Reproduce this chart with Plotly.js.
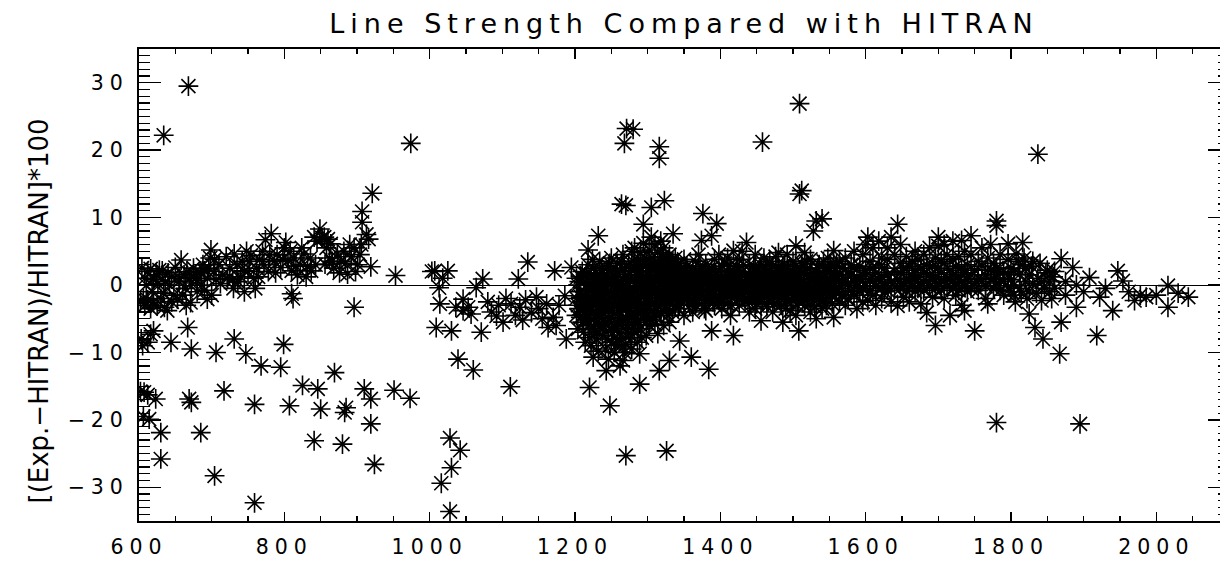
<!DOCTYPE html>
<html>
<head>
<meta charset="utf-8">
<script src="https://cdn.plot.ly/plotly-3.0.1.min.js"></script>
<style>
  html, body { margin: 0; padding: 0; overflow: hidden; background: #fff; }
  #chart { width: 1232px; height: 561px; }
  text.gtitle { letter-spacing: 6px; }
  g.xtick text, g.ytick text { letter-spacing: 6px; }
</style>
</head>
<body>
<div id="chart"></div>
<script>
// Chart text
const chartTitle = "Line Strength Compared with HITRAN";
const yTitle = "[(Exp.\u2212HITRAN)/HITRAN]*100";
const xTickValues = [600, 800, 1000, 1200, 1400, 1600, 1800, 2000];
const yTickValues = [-30, -20, -10, 0, 10, 20, 30];

// [wavenumber, deviation %] pairs, split by region
const region600to1000 = [
  [604,2.5],[608,1.0],[612,2.0],[616,2.4],[620,0.8],[624,1.5],[628,2.2],[632,2.1],[636,0.5],[640,1.8],
  [645,1.2],[650,2.6],[655,0.5],[658,3.7],[662,1.5],[666,2.0],[670,1.0],[675,2.5],[680,0.7],[684,1.8],
  [688,3.0],[690,2.1],[694,1.0],[698,4.0],[699,5.2],[703,2.0],[706,0.8],
  [602,-2.5],[606,-2.0],[608,-3.0],[612,-2.2],[616,-3.5],[620,-2.6],[625,-3.1],[630,-2.0],[635,-3.3],
  [639,-3.8],[645,-2.5],[653,-2.1],[660,-1.5],[665,-3.0],[671,-2.6],[680,-1.0],[690,-0.8],[694,-2.1],[700,-1.5],
  [603,-8.0],[605,-9.0],[612,-8.5],[616,-7.3],[620,-6.8],[644,-8.5],[667,-6.3],[672,-9.5],[706,-10.0],
  [731,-8.0],[747,-10.2],[768,-12.0],[795,-12.2],[799,-8.8],[825,-14.9],[846,-15.4],[869,-13.0],[910,-15.4],
  [919,-16.9],[951,-15.6],[973,-16.8],
  [602,-15.8],[607,-15.9],[612,-16.3],[623,-16.9],[669,-16.9],[672,-17.4],[717,-15.7],[759,-17.7],[807,-17.9],
  [850,-18.4],[883,-18.9],[885,-18.2],[919,-20.6],[606,-19.5],[614,-19.9],[630,-21.9],[685,-21.9],[841,-23.1],
  [880,-23.6],[630,-25.8],[924,-26.6],[704,-28.3],[759,-32.3],
  [668,29.5],[634,22.2],[974,21.0],
  [710,3.0],[715,1.5],[720,4.2],[725,2.5],[729,0.8],[731,4.6],[735,3.0],[740,1.2],[745,2.1],[748,5.0],
  [752,3.5],[754,4.4],[758,1.0],[762,2.5],[766,3.8],[770,5.0],[774,6.7],[778,2.0],[782,7.6],[786,3.5],
  [790,4.5],[795,2.6],[800,5.5],[802,6.3],[805,3.6],[810,2.1],[813,4.0],[818,1.5],[822,3.0],[827,4.6],
  [832,2.8],[837,2.1],[841,7.1],[845,6.5],[849,8.3],[852,7.0],[855,7.1],[858,5.5],[856,3.1],[862,4.0],
  [864,6.1],[868,2.5],[873,4.6],[878,3.5],[882,5.0],[887,1.6],[892,4.2],[896,5.5],[901,3.0],[906,6.0],
  [907,9.3],[907,10.9],[916,6.8],[919,2.7],[921,13.6],[913,7.5],
  [730,-0.5],[745,-1.0],[760,-0.5],[810,-1.3],[812,-2.0],[896,-3.3],[953,1.4],
  [610,0.0],[618,-1.0],[626,0.2],[634,-1.2],[642,0.0],[648,-1.5],[656,1.0],[664,-0.5],[672,0.3],[678,1.5],
  [686,0.0],[696,2.5],[704,3.8],[712,0.2],[722,1.0],[736,0.5],[742,3.5],[750,2.0],[764,1.2],[772,3.0],
  [780,4.5],[788,1.8],[798,3.8],[808,5.0],[816,2.8],[824,5.5],[830,1.2],[836,4.0],[843,3.0],[860,6.8],
  [866,3.5],[876,1.8],[884,3.2],[890,6.0],[898,2.0],[904,4.5]
];

const region1000to1200 = [
  [1003,2.0],[1007,2.1],[1013,-0.4],[1018,1.0],[1025,2.1],[1014,-2.8],[1036,-3.3],[1046,-2.1],[1046,-3.8],
  [1053,-3.3],[1057,-4.3],[1064,-0.4],[1073,0.9],[1009,-6.3],[1030,-6.8],[1071,-7.0],[1092,-4.6],[1101,-5.5],
  [1112,-2.8],[1122,0.9],[1124,-3.3],[1135,3.4],[1140,-4.1],[1147,-1.8],[1161,-2.8],[1163,-6.3],[1170,-4.8],
  [1172,2.1],[1174,-6.0],[1186,-1.6],[1188,-8.0],[1195,2.6],[1039,-11.0],[1060,-12.6],[1111,-15.1],
  [1028,-22.7],[1042,-24.5],[1030,-27.1],[1016,-29.4],[1028,-33.6],[1080,-2.5],[1085,-4.0],[1095,-3.0],
  [1105,-2.0],[1118,-4.5],[1128,-5.2],[1150,-3.5],[1155,-5.0],[1178,-3.0],[1132,-2.2]
];

const region1200to1360 = [
  [1218,5.2],[1232,7.3],[1220,-15.2],[1248,-17.9],[1270,-25.3],[1268,21.0],[1271,23.2],[1264,12.0],
  [1225,-10.7],[1243,-12.7],[1266,-11.2],[1227,-7.3],[1289,-10.2],[1316,-12.7],[1289,-14.7],[1330,-11.2],
  [1326,-24.6],[1280,23.1],[1316,20.5],[1316,18.8],[1270,11.8],[1305,11.5],[1323,12.5],[1294,9.0],
  [1305,7.1],[1335,7.6],[1344,-8.3],[1360,-10.7],
  [1202,1.0],[1202,-2.0],[1202,-4.5],[1206,-1.0],[1206,-3.5],[1206,0.5],[1210,-2.5],[1210,-5.5],[1210,2.0],
  [1214,-1.5],[1214,-4.0],[1214,-8.5],[1218,0.0],[1218,-3.0],[1218,-6.0],[1218,3.0],
  [1222,-2.2],[1222,-5.0],[1222,1.5],[1222,-9.0],[1226,-0.5],[1226,-3.8],[1226,-6.5],[1226,2.5],
  [1230,-1.8],[1230,-4.5],[1230,0.8],[1230,-8.0],[1234,-3.0],[1234,-6.0],[1234,3.5],[1234,-0.2],
  [1238,-1.2],[1238,-4.2],[1238,-7.5],[1238,1.8],[1242,-2.5],[1242,-5.5],[1242,0.5],[1242,-9.5],
  [1246,-0.8],[1246,-3.5],[1246,-6.8],[1246,2.8],[1246,-11.0],[1250,-2.0],[1250,-4.8],[1250,0.2],[1250,-8.5],[1250,4.0],
  [1254,-1.5],[1254,-3.2],[1254,-6.2],[1254,1.2],[1254,-10.0],[1258,-0.3],[1258,-2.8],[1258,-5.5],[1258,-8.0],[1258,3.2],
  [1262,-1.0],[1262,-4.0],[1262,-7.0],[1262,2.0],[1262,-12.0],[1266,-2.2],[1266,-5.2],[1266,0.8],[1266,-9.2],[1266,4.5],
  [1270,-0.5],[1270,-3.5],[1270,-6.5],[1270,1.5],[1270,-8.8],[1274,-1.8],[1274,-4.5],[1274,3.0],[1274,-7.2],[1274,0.2],
  [1278,-2.8],[1278,-5.8],[1278,2.2],[1278,-9.5],[1278,5.0],
  [1282,-1.0],[1282,-4.2],[1282,2.5],[1282,-7.0],[1282,5.5],[1286,0.5],[1286,-2.5],[1286,-5.5],[1286,3.5],[1286,-8.5],
  [1290,-1.5],[1290,1.5],[1290,-3.8],[1290,4.8],[1290,-6.5],[1294,0.0],[1294,-2.8],[1294,2.8],[1294,-5.0],[1294,6.2],
  [1298,-0.8],[1298,1.0],[1298,-4.5],[1298,3.8],[1298,-7.5],[1302,0.3],[1302,-2.0],[1302,2.0],[1302,-3.5],[1302,5.2],[1302,-6.0],
  [1306,-1.2],[1306,1.2],[1306,4.0],[1306,-4.8],[1310,0.8],[1310,-2.5],[1310,3.0],[1310,-5.8],[1310,6.0],
  [1314,-0.5],[1314,2.2],[1314,-3.2],[1314,4.8],[1314,-7.2],[1318,1.5],[1318,-1.8],[1318,3.5],[1318,-4.2],[1318,6.5],
  [1322,-0.2],[1322,2.8],[1322,-2.8],[1322,5.5],[1322,-6.0],[1326,1.0],[1326,-1.5],[1326,3.8],[1326,-3.8],
  [1330,-0.8],[1330,2.0],[1330,-2.5],[1330,4.5],[1330,-5.5],[1334,0.5],[1334,3.0],[1334,-1.8],[1334,-4.0],
  [1338,-0.3],[1338,1.8],[1338,-3.0],[1338,4.0],[1342,1.2],[1342,-1.2],[1342,3.2],[1342,-3.5],
  [1346,0.0],[1346,2.5],[1346,-2.2],[1350,-0.8],[1350,1.5],[1350,3.8],[1350,-4.5],[1354,0.8],[1354,-1.8],[1354,2.8],
  [1358,-0.5],[1358,1.8],[1358,-3.0]
];

const core1200to1360 = [
  [1204,0.0],[1204,-3.0],[1204,-6.5],[1208,-1.8],[1208,1.2],[1208,-4.8],[1212,0.5],[1212,-3.2],[1212,-7.0],
  [1216,-2.0],[1216,1.8],[1216,-5.2],[1220,-0.8],[1220,-4.0],[1220,-7.8],[1224,0.2],[1224,-2.8],[1224,3.8],
  [1228,-1.5],[1228,-5.8],[1228,1.0],[1232,0.5],[1232,-2.5],[1232,-9.8],[1236,-1.8],[1236,-4.8],[1236,2.2],
  [1240,0.0],[1240,-3.2],[1240,-6.2],[1244,-1.2],[1244,1.5],[1244,-8.0],[1248,-2.5],[1248,-5.0],[1248,3.2],
  [1252,0.8],[1252,-3.8],[1252,-7.0],[1256,-1.0],[1256,2.0],[1256,-9.0],[1260,-2.8],[1260,-5.8],[1260,0.5],
  [1264,-0.5],[1264,-3.5],[1264,3.5],[1264,-7.8],[1268,-1.5],[1268,2.5],[1268,-10.0],[1272,-0.2],[1272,-2.5],[1272,-5.0],
  [1276,1.0],[1276,-3.8],[1276,-8.0],[1280,-0.8],[1280,3.5],[1280,-6.0],[1284,1.5],[1284,-2.0],[1284,-5.0],
  [1288,-0.5],[1288,2.8],[1288,-3.2],[1292,0.8],[1292,-1.8],[1292,-7.8],[1296,-1.0],[1296,4.0],[1296,-3.0],
  [1300,1.5],[1300,-0.5],[1300,-5.2],[1304,-2.8],[1304,2.5],[1304,0.5],[1308,-0.2],[1308,3.2],[1308,-3.8],
  [1312,1.5],[1312,-1.5],[1312,-4.5],[1316,0.2],[1316,3.0],[1316,-2.0],[1320,-1.0],[1320,1.8],[1320,4.2],
  [1324,0.5],[1324,-2.0],[1324,2.2],[1328,-0.5],[1328,2.8],[1328,-4.5],[1332,0.8],[1332,-1.2],[1332,3.5],
  [1336,-0.8],[1336,2.2],[1336,-2.2],[1340,0.3],[1340,-1.8],[1340,2.8],[1344,-0.5],[1344,1.0],[1344,-3.0],
  [1348,1.2],[1348,-1.5],[1352,-0.2],[1352,2.0],[1356,0.5],[1356,-2.5]
];

const region1360to1560 = [
  [1362,0.5],[1362,-2.0],[1362,2.5],[1362,-4.0],[1366,-0.8],[1366,1.5],[1366,3.5],[1366,-3.0],
  [1370,0.2],[1370,-1.5],[1370,2.0],[1370,4.5],[1374,-0.5],[1374,1.0],[1374,-2.8],[1374,6.6],[1376,10.6],
  [1380,0.8],[1380,-1.0],[1380,3.0],[1380,-3.8],[1384,-0.2],[1384,1.8],[1384,-2.2],[1384,-12.5],
  [1388,0.5],[1388,-1.5],[1388,2.5],[1388,-6.8],[1388,7.3],[1392,-1.0],[1392,1.2],[1392,3.8],[1392,-3.0],[1395,9.1],
  [1398,0.0],[1398,2.0],[1398,-2.0],[1398,4.5],[1402,-0.8],[1402,1.0],[1402,-3.5],[1402,2.8],
  [1406,0.5],[1406,-1.8],[1406,3.2],[1410,-0.2],[1410,1.5],[1410,-2.8],[1410,4.0],
  [1414,0.8],[1414,-1.2],[1414,2.2],[1414,-4.5],[1418,-0.5],[1418,1.8],[1418,5.1],[1418,-7.5],
  [1422,0.3],[1422,-1.5],[1422,2.8],[1426,-0.8],[1426,1.2],[1426,-3.0],[1426,3.8],
  [1430,0.5],[1430,-1.8],[1430,2.0],[1430,5.0],[1434,-0.3],[1434,1.5],[1434,-2.5],[1436,6.3],
  [1440,0.8],[1440,-1.0],[1440,3.0],[1440,-4.0],[1444,-0.5],[1444,1.8],[1444,-2.2],
  [1448,0.2],[1448,2.5],[1448,-3.5],[1448,4.5],[1452,-0.8],[1452,1.0],[1452,-1.8],
  [1456,0.5],[1456,3.0],[1456,-5.3],[1456,-2.5],[1458,21.2],[1460,-0.3],[1460,1.5],[1460,4.0],
  [1464,0.8],[1464,-1.5],[1464,2.2],[1464,-3.2],[1468,-0.5],[1468,1.0],[1468,3.5],
  [1472,0.2],[1472,-2.0],[1472,2.8],[1472,-4.0],[1476,-0.8],[1476,1.5],[1476,4.2],
  [1480,0.5],[1480,-1.2],[1480,2.5],[1480,4.8],[1484,-0.3],[1484,1.8],[1484,-3.0],[1486,-5.5],
  [1488,0.8],[1488,-1.5],[1488,3.0],[1492,-0.5],[1492,1.2],[1492,-2.5],[1492,4.5],
  [1496,0.3],[1496,2.2],[1496,-3.8],[1500,-0.8],[1500,1.0],[1500,3.5],[1500,-1.8],
  [1504,0.5],[1504,2.8],[1504,5.8],[1504,-4.5],[1508,-0.2],[1508,1.5],[1508,-2.5],[1508,-6.8],
  [1509,26.9],[1509,13.5],[1512,0.8],[1512,-1.0],[1512,3.2],[1512,14.0],
  [1516,-0.5],[1516,1.8],[1516,-3.0],[1516,4.8],[1520,0.2],[1520,-1.8],[1520,2.5],
  [1524,-0.8],[1524,1.0],[1524,3.8],[1524,-4.0],[1528,0.5],[1528,8.0],[1528,-2.2],
  [1532,-0.3],[1532,1.8],[1532,9.5],[1532,-5.0],[1536,0.8],[1536,-1.5],[1536,3.0],
  [1540,-0.5],[1540,1.2],[1540,9.8],[1540,-3.5],[1544,0.3],[1544,2.5],[1544,-2.0],
  [1548,-0.8],[1548,1.0],[1548,4.0],[1552,0.5],[1552,-1.5],[1552,2.8],
  [1556,-0.2],[1556,1.8],[1556,-4.8],[1556,5.1],[1560,0.8],[1560,-1.0],[1560,3.2]
];

const core1360to1560 = [
  [1364,-1.0],[1364,1.0],[1368,0.5],[1368,-2.2],[1372,-0.3],[1372,2.8],[1376,1.2],[1376,-1.8],[1378,-3.5],
  [1382,0.3],[1382,2.2],[1386,-0.8],[1386,1.0],[1390,0.0],[1390,-2.5],[1394,1.5],[1394,-0.5],
  [1400,-1.2],[1400,1.0],[1404,0.2],[1404,-2.5],[1408,1.0],[1408,-0.8],[1412,2.8],[1412,-1.5],
  [1416,0.0],[1416,-3.0],[1420,1.2],[1420,-0.8],[1424,-2.0],[1424,2.0],[1428,0.8],[1428,-1.0],
  [1432,-0.5],[1432,3.0],[1438,0.0],[1438,-2.0],[1442,1.2],[1442,-1.2],[1446,-0.2],[1446,2.8],
  [1450,0.8],[1450,-2.8],[1454,-1.2],[1454,1.8],[1458,0.2],[1458,-2.0],[1462,-0.8],[1462,2.5],
  [1466,0.5],[1466,-2.5],[1470,-1.0],[1470,1.5],[1474,0.2],[1474,-2.8],[1478,-1.5],[1478,2.0],
  [1482,0.8],[1482,-2.0],[1486,-0.5],[1486,2.8],[1490,0.2],[1490,-3.5],[1494,-1.2],[1494,2.0],
  [1498,0.8],[1498,-2.2],[1502,-0.5],[1502,2.0],[1506,0.2],[1506,-3.0],[1510,-1.5],[1510,2.2],
  [1514,0.5],[1514,-2.0],[1518,-1.0],[1518,3.5],[1522,0.8],[1522,-3.0],[1526,-1.5],[1526,1.8],
  [1530,0.2],[1530,-3.2],[1534,-1.0],[1534,2.5],[1538,0.5],[1538,-2.5],[1542,-1.2],[1542,3.5],
  [1546,0.8],[1546,-3.0],[1550,-0.5],[1550,2.0],[1554,0.2],[1554,-2.8],[1558,-1.0],[1558,2.5]
];

const region1560to1800 = [
  [1564,-0.5],[1564,1.5],[1564,-2.5],[1564,3.5],[1568,0.5],[1568,2.5],[1568,-1.5],
  [1572,-1.0],[1572,1.0],[1572,4.0],[1572,-3.0],[1576,0.2],[1576,2.0],[1576,-2.0],
  [1580,-0.8],[1580,1.5],[1580,3.0],[1584,0.5],[1584,-1.5],[1584,2.5],[1584,5.0],
  [1588,-0.3],[1588,1.2],[1588,-3.5],[1592,0.8],[1592,2.8],[1592,-1.0],
  [1596,-0.5],[1596,1.5],[1596,4.5],[1596,-2.5],[1600,0.3],[1600,2.2],[1600,6.0],[1603,7.1],[1603,-2.3],
  [1606,-0.8],[1606,1.0],[1606,3.5],[1610,0.5],[1610,2.5],[1610,-1.5],[1610,5.5],
  [1614,-0.2],[1614,1.8],[1614,-3.0],[1618,0.8],[1618,3.0],[1618,6.5],
  [1622,-0.5],[1622,1.2],[1622,4.0],[1622,-2.0],[1626,0.2],[1626,2.5],[1626,-1.0],
  [1630,-0.8],[1630,1.5],[1630,3.8],[1630,5.5],[1635,0.5],[1635,7.1],[1635,-2.5],
  [1640,-0.3],[1640,2.0],[1640,4.5],[1644,0.8],[1644,9.0],[1644,-3.1],
  [1648,-0.5],[1648,1.8],[1648,3.2],[1648,6.0],[1652,0.2],[1652,2.5],[1652,-1.8],
  [1656,-0.8],[1656,1.0],[1656,4.2],[1660,0.5],[1660,2.8],[1660,-2.5],
  [1664,-0.2],[1664,1.5],[1664,3.5],[1668,0.8],[1668,2.2],[1668,-1.0],[1668,5.0],
  [1672,-0.5],[1672,1.2],[1672,3.8],[1676,0.2],[1676,2.5],[1676,-2.8],
  [1680,-0.8],[1680,1.8],[1680,4.5],[1684,0.5],[1684,3.0],[1684,-4.1],
  [1688,-0.3],[1688,1.5],[1688,5.5],[1692,0.8],[1692,2.8],[1692,-1.8],
  [1696,-0.5],[1696,1.2],[1696,4.0],[1696,-6.0],[1700,0.2],[1700,2.5],[1700,7.1],[1700,5.8],
  [1704,-0.8],[1704,1.8],[1704,3.5],[1708,0.5],[1708,3.2],[1708,-2.0],[1708,6.0],
  [1712,-0.2],[1712,1.0],[1712,4.5],[1716,0.8],[1716,2.2],[1716,-4.5],
  [1720,-0.5],[1720,1.5],[1720,3.8],[1720,6.5],[1724,0.2],[1724,2.8],[1724,-1.5],
  [1728,-0.8],[1728,1.2],[1728,4.2],[1732,0.5],[1732,2.5],[1732,6.6],[1732,-3.0],
  [1736,-0.3],[1736,1.8],[1736,-3.8],[1736,5.0],[1740,0.8],[1740,3.0],[1740,-1.0],
  [1745,-0.5],[1745,1.5],[1745,7.3],[1745,4.5],[1750,0.2],[1750,2.2],[1750,-6.8],
  [1755,-0.8],[1755,1.0],[1755,3.5],[1760,0.5],[1760,2.8],[1760,5.5],
  [1765,-0.2],[1765,1.5],[1765,-2.0],[1768,-2.8],[1768,4.0],[1772,0.8],[1772,2.2],[1772,6.0],
  [1776,-0.5],[1776,1.0],[1776,3.2],[1780,9.5],[1780,8.8],[1780,-20.4],[1780,0.3],[1780,2.5],
  [1785,-0.8],[1785,1.8],[1785,4.5],[1790,0.5],[1790,2.0],[1790,-1.5],
  [1796,6.1],[1796,-0.3],[1796,1.5],[1796,3.8],[1800,0.8],[1800,-1.0],[1800,2.5]
];

const region1800to2100 = [
  [1804,0.0],[1804,2.0],[1804,-1.5],[1806,-2.5],[1807,4.6],[1810,3.5],[1812,1.6],[1812,-0.5],
  [1814,-1.0],[1816,6.3],[1816,3.0],[1818,4.0],[1820,0.5],[1820,2.5],[1822,-2.0],
  [1825,-0.9],[1825,-4.3],[1825,1.5],[1828,2.8],[1830,0.2],[1830,3.5],[1833,-6.3],[1835,-1.2],
  [1837,19.4],[1837,1.0],[1840,3.2],[1842,-2.3],[1842,0.5],[1844,-8.0],[1846,-0.5],[1848,1.8],
  [1850,2.2],[1853,0.6],[1853,-1.0],[1856,-2.0],[1858,1.2],[1860,2.0],[1860,-0.5],
  [1867,-10.2],[1869,3.9],[1869,-5.5],[1875,0.5],[1875,-1.5],[1885,2.6],[1890,-3.3],[1890,0.0],
  [1895,-20.6],[1900,-1.0],[1908,1.1],[1918,-7.5],[1922,-1.8],[1930,-0.5],[1940,-3.8],[1947,2.1],
  [1954,0.6],[1962,-1.0],[1970,-2.3],[1978,-1.5],[1986,-1.8],[2000,-1.5],[2016,-0.1],[2016,-3.3],
  [2030,-1.2],[2044,-1.8]
];

const allPoints = [].concat(region600to1000, region1000to1200, region1200to1360, core1200to1360,
                            region1360to1560, core1360to1560, region1560to1800, region1800to2100);
const wavenumber = allPoints.map(p => p[0]);
const deviation = allPoints.map(p => p[1]);

const fontFamily = "DejaVu Sans";

const trace = {
  type: "scatter",
  mode: "markers",
  x: wavenumber,
  y: deviation,
  marker: { symbol: "asterisk-open", size: 16.5, color: "#000", line: { color: "#000", width: 1.6 } },
  hoverinfo: "x+y"
};

const layout = {
  width: 1232,
  height: 561,
  margin: { l: 139, r: 3, t: 49, b: 40, pad: 0 },
  paper_bgcolor: "#fff",
  plot_bgcolor: "#fff",
  showlegend: false,
  font: { family: fontFamily, color: "#000", size: 20 },
  title: {
    text: chartTitle,
    font: { family: fontFamily, size: 27, color: "#000" },
    x: 0.5, xref: "paper", xanchor: "center",
    y: 1, yref: "container", yanchor: "top", pad: { t: 14 }
  },
  xaxis: {
    range: [600, 2100],
    tickmode: "array",
    tickvals: xTickValues,
    ticktext: xTickValues.map(String),
    ticks: "inside", ticklen: 9.5, tickwidth: 1.5, tickcolor: "#000",
    showline: true, linecolor: "#000", linewidth: 2, mirror: "ticks",
    showgrid: false, zeroline: false,
    minor: { dtick: 50, tick0: 600, ticks: "inside", ticklen: 5, tickwidth: 1.5, tickcolor: "#000", showgrid: false },
    tickfont: { family: fontFamily, size: 20.5, color: "#000" },
    ticklabelstandoff: 6
  },
  yaxis: {
    range: [-35, 35],
    tickmode: "array",
    tickvals: yTickValues,
    ticktext: yTickValues.map(v => v < 0 ? "\u2212" + Math.abs(v) : String(v)),
    ticks: "inside", ticklen: 21.5, tickwidth: 1.5, tickcolor: "#000",
    showline: true, linecolor: "#000", linewidth: 2, mirror: "ticks",
    showgrid: false,
    zeroline: true, zerolinecolor: "#000", zerolinewidth: 1,
    minor: { dtick: 1, tick0: 0, ticks: "inside", ticklen: 11, tickwidth: 1.2, tickcolor: "#000", showgrid: false },
    tickfont: { family: fontFamily, size: 20.5, color: "#000" },
    ticklabelstandoff: 4,
    title: { text: yTitle, font: { family: fontFamily, size: 26, color: "#000" }, standoff: 12 }
  }
};

Plotly.newPlot("chart", [trace], layout, { displayModeBar: false, staticPlot: true }).then(() => {
  const t = document.querySelector("text.ytitle");
  if (t) {
    const tr = t.getAttribute("transform") || "";
    t.setAttribute("transform", tr + " translate(-26,0)");
  }
});
</script>
</body>
</html>
